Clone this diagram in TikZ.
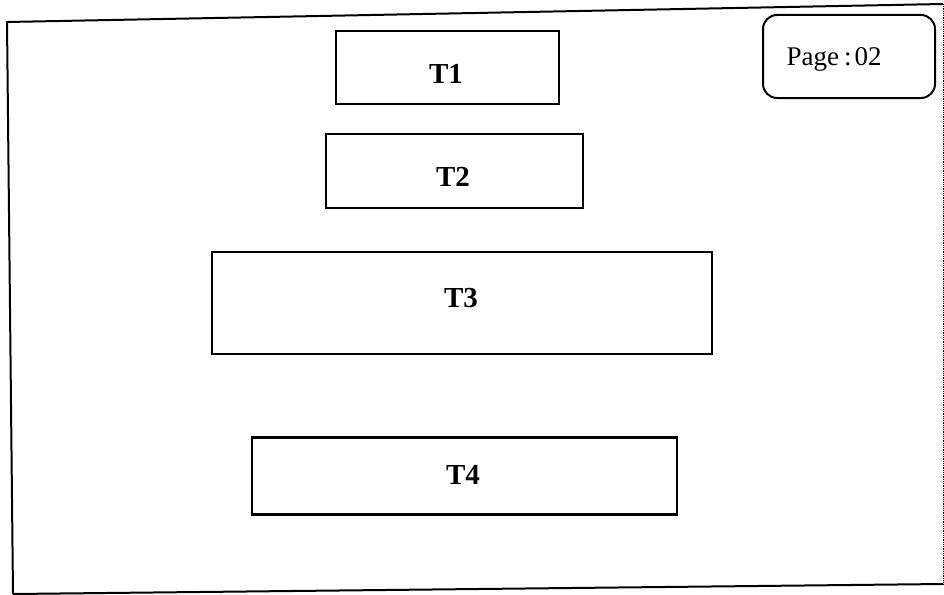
\documentclass[tikz,border=0pt]{standalone}
\usepackage{fontspec}
\setmainfont{Liberation Serif}
\begin{document}
\begin{tikzpicture}[x=1pt,y=-1pt,
  tbox/.style={draw, line width=2.3pt, inner sep=0pt},
  tlabel/.style={inner sep=0pt, font=\fontsize{29}{32}\selectfont\bfseries},
  pagebox/.style={draw, line width=2pt, rounded corners=14pt, inner sep=0pt},
  plabel/.style={inner sep=0pt, font=\fontsize{27}{32}\selectfont}]
\useasboundingbox (0,0) rectangle (944,594);
% outer frame (slightly skewed like the scan)
\coordinate (ftl) at (7,22);
\coordinate (ftr) at (943,4);
\coordinate (fbr) at (943,584);
\coordinate (fbl) at (13,594);
\draw[line width=2pt] (fbl) -- (ftl) -- (ftr);
\draw[line width=2pt] (fbl) -- (fbr);
\draw[line width=0.8pt, densely dotted] (ftr) -- (fbr);
\node[tbox, minimum width=223pt, minimum height=73pt] (t1) at (447.5,67.5) {};
\node[tlabel] (l1) at (446,74) {T1};
\node[tbox, minimum width=257pt, minimum height=74pt] (t2) at (454.5,171) {};
\node[tlabel] (l2) at (453,177) {T2};
\node[tbox, minimum width=500pt, minimum height=102pt] (t3) at (462,303) {};
\node[tlabel] (l3) at (461,298) {T3};
\node[tbox, minimum width=425pt, minimum height=77pt] (t4) at (464.5,476) {};
\node[tlabel] (l4) at (463,475) {T4};
\node[pagebox, minimum width=172pt, minimum height=83pt] (pg) at (849,56.5) {};
\node[plabel] (pl) at (834,59) {Page\hspace{5pt}:\hspace{3pt}02};
\end{tikzpicture}
\end{document}
